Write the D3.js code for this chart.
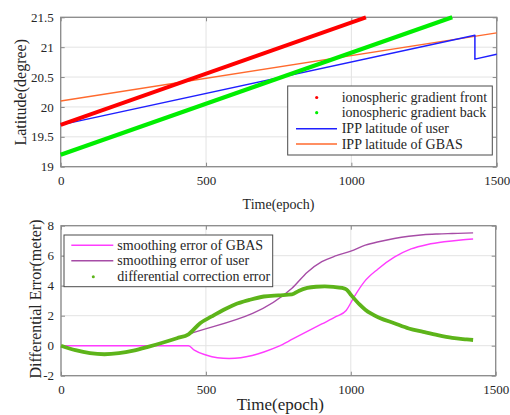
<!DOCTYPE html>
<html><head><meta charset="utf-8">
<script src="https://cdn.jsdelivr.net/npm/d3@7"></script>
<style>
body{margin:0;background:#fff}
svg{display:block}
text{font-family:"Liberation Serif","Times New Roman",serif;fill:#262626}
</style></head><body>
<svg id="c" width="510" height="415"></svg>
<script>
// ---------- data ----------
const xTicks = [0, 500, 1000, 1500];
const latTicks = [19, 19.5, 20, 20.5, 21, 21.5];
const errTicks = [-2, 0, 2, 4, 6, 8];

const frontEpoch = [0, 1050];
const frontLat   = [19.7, 21.5];
const backEpoch  = [0, 1347];
const backLat    = [19.2, 21.5];
const userEpoch  = [0, 1425, 1425, 1500];
const userLat    = [19.7, 21.2, 20.8, 20.88];
const gbasEpoch  = [0, 1500];
const gbasLat    = [20.1, 21.24];

const gbasErrEpoch = [0, 440, 460, 500, 540, 580, 620, 660, 700, 750, 800, 850, 900, 950, 984, 1012, 1047, 1093, 1150, 1208, 1265, 1322, 1380, 1422];
const gbasErr      = [0, 0, -0.3, -0.62, -0.8, -0.85, -0.8, -0.65, -0.42, -0.05, 0.45, 0.95, 1.45, 1.95, 2.35, 3.27, 4.27, 5.1, 5.9, 6.45, 6.75, 6.93, 7.05, 7.11];

const userErrEpoch = [0, 50, 100, 150, 200, 250, 300, 350, 400, 440, 797, 850, 900, 950, 1000, 1050, 1100, 1150, 1200, 1250, 1300, 1350, 1422];
const userErr      = [0, -0.3, -0.5, -0.57, -0.5, -0.33, -0.08, 0.2, 0.5, 0.76, 3.83, 4.9, 5.6, 6.0, 6.3, 6.7, 6.95, 7.15, 7.3, 7.4, 7.45, 7.48, 7.52];

const diffErrEpoch = [0, 50, 100, 150, 200, 250, 300, 350, 400, 440, 480, 520, 560, 600, 650, 700, 750, 797, 820, 850, 880, 910, 940, 970, 985, 1000, 1030, 1050, 1100, 1150, 1200, 1250, 1300, 1350, 1400, 1422];
const diffErr      = [0, -0.3, -0.5, -0.57, -0.5, -0.33, -0.08, 0.2, 0.5, 0.76, 1.5, 1.95, 2.38, 2.75, 3.05, 3.28, 3.36, 3.42, 3.65, 3.85, 3.93, 3.95, 3.92, 3.85, 3.75, 3.4, 2.75, 2.4, 1.85, 1.5, 1.15, 0.92, 0.7, 0.52, 0.42, 0.38];

const topLegend = ["ionospheric gradient front", "ionospheric gradient back", "IPP latitude of user", "IPP latitude of GBAS"];
const botLegend = ["smoothing error of GBAS", "smoothing error of user", "differential correction error"];

// ---------- drawing ----------
const svg = d3.select("#c");
svg.append("rect").attr("width", 510).attr("height", 415).attr("fill", "#fff");

const zip = (xs, ys) => xs.map((x, i) => [x, ys[i]]);

function panel(cfg) {
  const x = d3.scaleLinear().domain([0, 1500]).range([cfg.x0, cfg.x1]);
  const y = d3.scaleLinear().domain(cfg.ydom).range([cfg.y1, cfg.y0]);
  const g = svg.append("g");
  // grid
  g.selectAll(".gx").data(cfg.xt).enter().append("line")
    .attr("x1", d => x(d)).attr("x2", d => x(d)).attr("y1", cfg.y0).attr("y2", cfg.y1)
    .attr("stroke", "#e3e3e3").attr("stroke-width", 1);
  g.selectAll(".gy").data(cfg.yt).enter().append("line")
    .attr("y1", d => y(d)).attr("y2", d => y(d)).attr("x1", cfg.x0).attr("x2", cfg.x1)
    .attr("stroke", "#e3e3e3").attr("stroke-width", 1);
  // axes with inward ticks
  const ax = g.append("g").attr("transform", `translate(0,${cfg.y1})`)
    .call(d3.axisBottom(x).tickValues(cfg.xt).tickSize(-4).tickPadding(cfg.xpad).tickFormat(d3.format("d")));
  const axt = g.append("g").attr("transform", `translate(0,${cfg.y0})`)
    .call(d3.axisTop(x).tickValues(cfg.xt).tickSize(-4).tickFormat(""));
  const ay = g.append("g").attr("transform", `translate(${cfg.x0},0)`)
    .call(d3.axisLeft(y).tickValues(cfg.yt).tickSize(-4).tickPadding(7).tickFormat(d => String(d)));
  const ayr = g.append("g").attr("transform", `translate(${cfg.x1},0)`)
    .call(d3.axisRight(y).tickValues(cfg.yt).tickSize(-4).tickFormat(""));
  [ax, axt, ay, ayr].forEach(a => {
    a.select(".domain").attr("stroke", "none");
    a.selectAll(".tick line").attr("stroke", "#8a8a8a").attr("stroke-width", 1);
    a.selectAll("text").attr("font-size", 13).attr("font-family", '"Liberation Serif",serif').attr("fill", "#262626");
  });
  g.append("rect").attr("x", cfg.x0).attr("y", cfg.y0).attr("width", cfg.x1 - cfg.x0).attr("height", cfg.y1 - cfg.y0)
    .attr("fill", "none").attr("stroke", "#8a8a8a").attr("stroke-width", 1.3);
  return {x, y, g};
}

// ----- top panel -----
const P1 = panel({x0: 60.7, x1: 496.7, y0: 17.3, y1: 166.7, ydom: [19, 21.5], xt: xTicks, yt: latTicks, xpad: 9});
const line1 = d3.line().x(d => P1.x(d[0])).y(d => P1.y(d[1]));
const topSeries = [
  {d: zip(gbasEpoch, gbasLat), c: "#ff6a2e", w: 1.4},
  {d: zip(userEpoch, userLat), c: "#1f1fff", w: 1.5},
  {d: zip(backEpoch, backLat), c: "#00ee00", w: 4.2},
  {d: zip(frontEpoch, frontLat), c: "#ff0000", w: 4}
];
topSeries.forEach(s => P1.g.append("path").attr("d", line1(s.d)).attr("fill", "none")
  .attr("stroke", s.c).attr("stroke-width", s.w).attr("stroke-linejoin", "round"));

// top legend
const L1 = svg.append("g");
L1.append("rect").attr("x", 287.7).attr("y", 86).attr("width", 204.6).attr("height", 69)
  .attr("fill", "#fff").attr("stroke", "#4a4a4a").attr("stroke-width", 1);
const tl = [
  {t: topLegend[0], c: "#ff0000", dot: true},
  {t: topLegend[1], c: "#00ee00", dot: true},
  {t: topLegend[2], c: "#1f1fff", dot: false},
  {t: topLegend[3], c: "#ff6a2e", dot: false}
];
const tlY = [97.5, 112.7, 128.7, 144];
tl.forEach((e, i) => {
  if (e.dot) L1.append("circle").attr("cx", 316.7).attr("cy", tlY[i]).attr("r", 1.6).attr("fill", e.c);
  else L1.append("line").attr("x1", 296).attr("x2", 337).attr("y1", tlY[i]).attr("y2", tlY[i])
    .attr("stroke", e.c).attr("stroke-width", 1.6);
  L1.append("text").attr("x", 341.7).attr("y", tlY[i] + 4.6).attr("font-size", 14).text(e.t);
});

svg.append("text").attr("x", 278.5).attr("y", 209).attr("text-anchor", "middle").attr("font-size", 14).text("Time(epoch)");
svg.append("text").attr("transform", "translate(26,92.3) rotate(-90)").attr("text-anchor", "middle").attr("font-size", 16).text("Latitude(degree)");

// ----- bottom panel -----
const P2 = panel({x0: 61, x1: 495.7, y0: 225.7, y1: 375.7, ydom: [-2, 8], xt: xTicks, yt: errTicks, xpad: 9});
const line2 = d3.line().x(d => P2.x(d[0])).y(d => P2.y(d[1])).curve(d3.curveMonotoneX);
const botSeries = [
  {d: zip(userErrEpoch, userErr), c: "#a64ca6", w: 1.4},
  {d: zip(gbasErrEpoch, gbasErr), c: "#ff3cff", w: 1.4},
  {d: zip(diffErrEpoch, diffErr), c: "#5db41a", w: 3.8}
];
botSeries.forEach(s => P2.g.append("path").attr("d", line2(s.d)).attr("fill", "none")
  .attr("stroke", s.c).attr("stroke-width", s.w).attr("stroke-linejoin", "round"));

const L2 = svg.append("g");
L2.append("rect").attr("x", 64).attr("y", 235).attr("width", 208.7).attr("height", 51.7)
  .attr("fill", "#fff").attr("stroke", "#4a4a4a").attr("stroke-width", 1);
const bl = [
  {t: botLegend[0], c: "#ff3cff", dot: false},
  {t: botLegend[1], c: "#a64ca6", dot: false},
  {t: botLegend[2], c: "#5db41a", dot: true}
];
const blY = [245.3, 260.7, 276.7];
bl.forEach((e, i) => {
  if (e.dot) L2.append("circle").attr("cx", 93.3).attr("cy", blY[i]).attr("r", 1.5).attr("fill", e.c);
  else L2.append("line").attr("x1", 71.3).attr("x2", 113.3).attr("y1", blY[i]).attr("y2", blY[i])
    .attr("stroke", e.c).attr("stroke-width", 1.6);
  L2.append("text").attr("x", 117.3).attr("y", blY[i] + 4.6).attr("font-size", 14).text(e.t);
});

svg.append("text").attr("x", 280.3).attr("y", 410).attr("text-anchor", "middle").attr("font-size", 17).text("Time(epoch)");
svg.append("text").attr("transform", "translate(41,299) rotate(-90)").attr("text-anchor", "middle").attr("font-size", 16).text("Differential Error(meter)");
</script></body></html>
